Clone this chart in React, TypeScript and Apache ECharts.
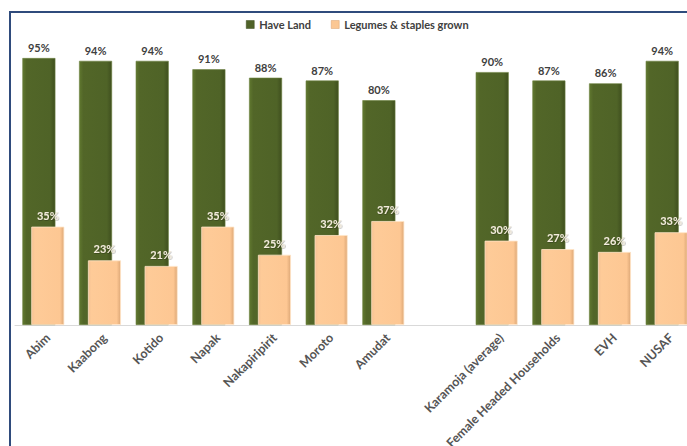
import React, { useEffect, useRef } from "react";
import * as echarts from "echarts";

const categories = [
  "Abim",
  "Kaabong",
  "Kotido",
  "Napak",
  "Nakapiripirit",
  "Moroto",
  "Amudat",
  "",
  "Karamoja (average)",
  "Female Headed Households",
  "EVH",
  "NUSAF",
];
const haveLand: (number | null)[] = [95, 94, 94, 91, 88, 87, 80, null, 90, 87, 86, 94];
const legumesStaples: (number | null)[] = [35, 23, 21, 35, 25, 32, 37, null, 30, 27, 26, 33];

const greenFill = new echarts.graphic.LinearGradient(0, 0, 1, 0, [
  { offset: 0, color: "#60782F" },
  { offset: 0.12, color: "#526628" },
  { offset: 0.85, color: "#4F6327" },
  { offset: 1, color: "#3F4F1E" },
]);
const orangeFill = new echarts.graphic.LinearGradient(0, 0, 1, 0, [
  { offset: 0, color: "#F6C294" },
  { offset: 0.1, color: "#FECB98" },
  { offset: 0.88, color: "#FDC793" },
  { offset: 1, color: "#DDA877" },
]);

export default function App() {
  const ref = useRef<HTMLDivElement>(null);
  useEffect(() => {
    if (!ref.current) return;
    const chart = echarts.init(ref.current, null, { renderer: "svg" });
    chart.setOption({
      animation: false,
      backgroundColor: "#ffffff",
      textStyle: { fontFamily: "Lato, 'Open Sans', sans-serif" },
      legend: {
        top: 14,
        left: 241,
        itemWidth: 8,
        itemHeight: 8,
        itemGap: 20,
        textStyle: { fontSize: 11, fontWeight: "bold", color: "#404040", fontFamily: "Lato, sans-serif" },
        data: [
          { name: "Have Land", icon: "rect", itemStyle: { color: "#4F6228", borderColor: "#3A4A1C", borderWidth: 0.5 } },
          { name: "Legumes & staples grown", icon: "rect", itemStyle: { color: "#FBC793", borderColor: "#D9A06C", borderWidth: 0.5 } },
        ],
      },
      grid: { left: 15, top: 44, width: 680, height: 281, containLabel: false, outerBoundsMode: "none" },
      xAxis: {
        type: "category",
        data: categories,
        axisTick: { show: false },
        axisLine: { lineStyle: { color: "#D9D9D9", width: 1 } },
        axisLabel: {
          rotate: 45,
          interval: 0,
          margin: 6,
          verticalAlign: "top",
          fontSize: 12.5,
          fontWeight: "bold",
          color: "#555555",
          fontFamily: "Lato, sans-serif",
        },
      },
      yAxis: {
        type: "value",
        min: 0,
        max: 100,
        show: false,
        splitLine: { show: false },
      },
      series: [
        {
          name: "Have Land",
          type: "bar",
          data: haveLand,
          barWidth: 33,
          barGap: "-73%",
          z: 2,
          itemStyle: { color: greenFill, borderColor: "#6B8140", borderWidth: 0.6 },
          label: {
            show: true,
            position: "top",
            distance: 5,
            formatter: "{c}%",
            fontSize: 11,
            fontWeight: "bold",
            color: "#404040",
            fontFamily: "Lato, sans-serif",
          },
        },
        {
          name: "Legumes & staples grown",
          type: "bar",
          data: legumesStaples,
          barWidth: 33,
          z: 3,
          itemStyle: { color: orangeFill, borderColor: "#FFE4C6", borderWidth: 0.8 },
          label: {
            show: true,
            position: "top",
            distance: 6,
            formatter: "{c}%",
            fontSize: 11,
            fontWeight: "bold",
            color: "#F3ECDC",
            textShadowColor: "rgba(0,0,0,0.45)",
            textShadowBlur: 1,
            textShadowOffsetX: 0.5,
            textShadowOffsetY: 0.5,
            fontFamily: "Lato, sans-serif",
          },
        },
      ],
    });
    return () => chart.dispose();
  }, []);
  return (
    <div style={{ position: "fixed", left: 0, top: 0, width: 687, height: 446, overflow: "hidden", background: "#fff" }}>
      <div ref={ref} style={{ position: "absolute", left: 0, top: 0, width: 720, height: 446 }} />
      <div
        style={{
          position: "absolute",
          left: 9,
          top: 11,
          width: 800,
          height: 800,
          borderLeft: "2px solid #2F4B7C",
          borderTop: "2px solid #2F4B7C",
          pointerEvents: "none",
        }}
      />
    </div>
  );
}
